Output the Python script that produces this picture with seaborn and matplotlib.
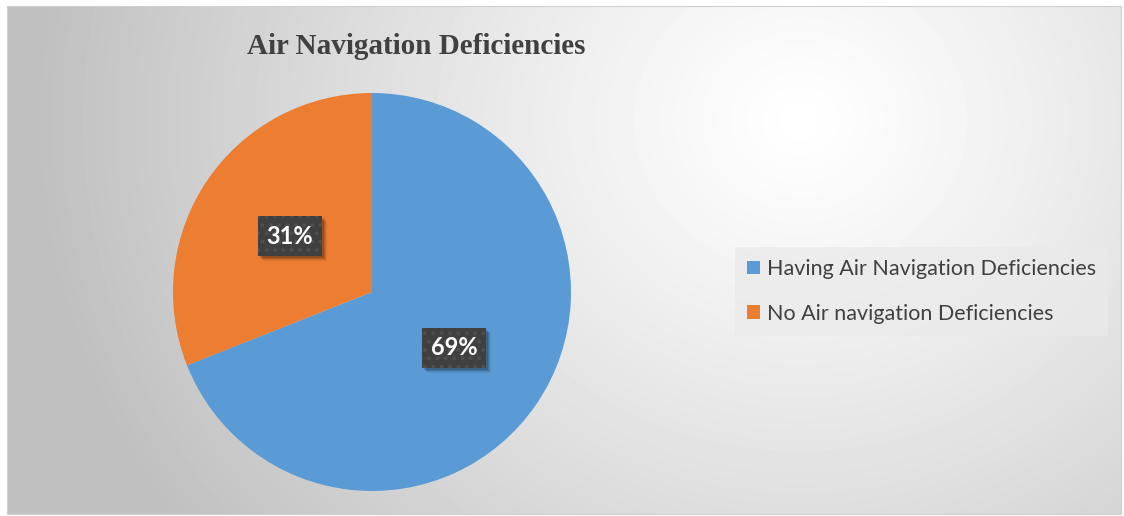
import numpy as np
import matplotlib
matplotlib.use("Agg")
import matplotlib.pyplot as plt
import seaborn as sns
from matplotlib.patches import Rectangle
from matplotlib.transforms import IdentityTransform

categories = ["Having Air Navigation Deficiencies", "No Air navigation Deficiencies"]
values = [69, 31]
colors = ["#5B9BD5", "#ED7D31"]
title = "Air Navigation Deficiencies"

sns.set_style("white")
plt.rcParams['font.family'] = ['Lato', 'DejaVu Sans']
plt.rcParams['hatch.linewidth'] = 1.6

W, H = 1124, 516
fig = plt.figure(figsize=(W / 100, H / 100), dpi=100)
fig.patch.set_facecolor("white")

# chart area with radial gradient background
x0, y0, x1, y1 = 7, 6, 1121, 514
bg = fig.add_axes([x0 / W, 1 - y1 / H, (x1 - x0) / W, (y1 - y0) / H], zorder=0)
gx, gy = np.meshgrid(np.arange(x0, x1), np.arange(y0, y1))
d = np.hypot((gx - 800) / 1.1, gy - 120) / 700.0
d = np.clip(d, 0, 1)
shade = 1.0 - 0.25 * d ** 1.15
bg.imshow(shade, cmap="gray", vmin=0, vmax=1, aspect="auto", interpolation="bilinear")
bg.set_axis_off()
fig.add_artist(Rectangle((x0 / W, 1 - y1 / H), (x1 - x0) / W, (y1 - y0) / H,
                         transform=fig.transFigure, fill=False, edgecolor="#d0d0d0", lw=0.8))

# pie axes: center (372, 292), radius 199
cx, cy, r = 372, 292, 199
ax = fig.add_axes([(cx - r) / W, 1 - (cy + r) / H, 2 * r / W, 2 * r / H], zorder=2)
ax.set_facecolor("none")
wedges, _ = ax.pie(values, colors=colors, startangle=90, counterclock=False,
                   wedgeprops=dict(linewidth=0))
ax.set_xlim(-1, 1)
ax.set_ylim(-1, 1)
ax.set_aspect("equal")
ax.set_axis_off()

# data labels
labels = []
for w, v in zip(wedges, values):
    ang = np.deg2rad((w.theta1 + w.theta2) / 2)
    lx, ly = 0.5 * np.cos(ang), 0.5 * np.sin(ang)
    t = ax.text(lx, ly, f"{v}%", ha="center", va="center", fontsize=17, fontweight="bold",
                color="white", zorder=5,
                bbox=dict(boxstyle="square,pad=0.36", facecolor="#404040", edgecolor="#4f4f4f",
                          hatch="..", linewidth=0))
    labels.append(t)

# soft shadows under label boxes (display coordinates, inside the pie axes)
fig.canvas.draw()
for t in labels:
    bb = t.get_bbox_patch().get_window_extent()
    for k, a in [(5, 0.06), (4, 0.09), (3, 0.12), (2, 0.14)]:
        ax.add_patch(Rectangle((bb.x0 + k, bb.y0 - k), bb.width, bb.height,
                               transform=IdentityTransform(), facecolor="black", alpha=a,
                               linewidth=0, zorder=4, clip_on=False))

# title
fig.text(416 / W, 1 - 46 / H, title, ha="center", va="center", fontsize=21,
         fontweight="bold", color="#404040", family=["Liberation Serif", "DejaVu Serif"])

# legend
handles = [Rectangle((0, 0), 1, 1, facecolor=c, edgecolor="none") for c in colors]
leg = fig.legend(handles, categories, loc="center left",
                 bbox_to_anchor=(735 / W, 1 - 291.5 / H), frameon=True, fontsize=15.5,
                 handlelength=0.6, handleheight=0.6, handletextpad=0.35,
                 labelspacing=1.15, borderpad=0.55, fancybox=False, borderaxespad=0)
leg.set_zorder(3)
leg.get_frame().set_facecolor("#eaeaea")
leg.get_frame().set_alpha(0.75)
leg.get_frame().set_edgecolor("none")
for t in leg.get_texts():
    t.set_color("#404040")

fig.savefig("out.png", dpi=100, facecolor="white")
